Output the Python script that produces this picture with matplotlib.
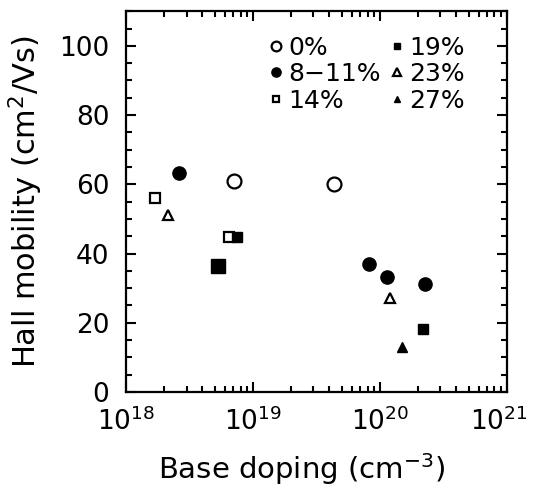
import matplotlib
matplotlib.use("Agg")
import matplotlib.pyplot as plt
import matplotlib.transforms as mtransforms
from matplotlib.ticker import LogLocator, MultipleLocator, NullFormatter

plt.rcParams['font.family'] = ['DejaVu Sans']
plt.rcParams['mathtext.fontset'] = 'dejavusans'

# Hall mobility vs base doping, grouped by In content
labels = ["0%", "8\u221211%", "14%", "19%", "23%", "27%"]
doping_0 = [7.1e18, 4.34e19]
mob_0 = [61.0, 60.2]
doping_8 = [2.63e18, 8.2e19, 1.14e20, 2.25e20]
mob_8 = [63.3, 37.0, 33.2, 31.1]
doping_14 = [1.70e18, 6.5e18]
mob_14 = [56.1, 44.7]
doping_19 = [7.5e18, 2.17e20]
mob_19 = [44.7, 18.3]
doping_19_big = [5.3e18]
mob_19_big = [36.3]
doping_23 = [2.14e18, 1.20e20]
mob_23 = [51.2, 27.1]
doping_27 = [1.49e20]
mob_27 = [12.9]

fig = plt.figure(figsize=(5.34, 4.87), dpi=100)
ax = fig.add_axes([0.236, 0.195, 0.713, 0.782])

ax.plot(doping_0, mob_0, 'o', mfc='white', mec='black', mew=1.6, ms=10, ls='none', label=labels[0])
ax.plot(doping_8, mob_8, 'o', mfc='black', mec='black', ms=9.5, ls='none', label=labels[1])
ax.plot(doping_14, mob_14, 's', mfc='white', mec='black', mew=1.6, ms=7, ls='none', label=labels[2])
ax.plot(doping_19, mob_19, 's', mfc='black', mec='black', ms=6.5, ls='none', label=labels[3])
ax.plot(doping_19_big, mob_19_big, 's', mfc='black', mec='black', ms=9.5, ls='none')
ax.plot(doping_23, mob_23, '^', mfc='white', mec='black', mew=1.6, ms=7.5, ls='none', label=labels[4])
ax.plot(doping_27, mob_27, '^', mfc='black', mec='black', ms=7, ls='none', label=labels[5])

ax.set_xscale('log')
ax.set_xlim(1e18, 1e21)
ax.set_ylim(0, 110)
ax.xaxis.set_major_locator(LogLocator(base=10, numticks=10))
ax.xaxis.set_minor_locator(LogLocator(base=10, subs=range(2, 10), numticks=20))
ax.xaxis.set_minor_formatter(NullFormatter())
ax.yaxis.set_major_locator(MultipleLocator(20))
ax.yaxis.set_minor_locator(MultipleLocator(5))

ax.tick_params(which='both', direction='in', top=True, right=True, width=1.5,
               labelsize=19, colors='black')
ax.tick_params(which='major', length=7)
ax.tick_params(which='minor', length=4)
ax.tick_params(axis='y', which='major', pad=12)
ax.tick_params(axis='x', which='major', pad=11)
for s in ax.spines.values():
    s.set_linewidth(1.6)

ax.set_xlabel("Base doping (cm$^{\u22123}$)", fontsize=21, labelpad=9)
ax.xaxis.set_label_coords(0.462, -0.155)
ax.set_ylabel("Hall mobility (cm$^{2}$/Vs)", fontsize=22, labelpad=10)

ax.legend(ncol=2, loc='upper right', bbox_to_anchor=(0.93, 0.975), frameon=False,
          fontsize=18, handletextpad=0.05, columnspacing=0.2, labelspacing=0.1,
          handlelength=0.9, markerscale=0.7, borderaxespad=0.2)

# nudge the 10^21 label so it stays inside the right edge
fig.canvas.draw()
for t in ax.xaxis.get_major_ticks():
    if abs(t.get_loc() / 1e21 - 1) < 1e-6:
        t.label1.set_transform(t.label1.get_transform() +
                               mtransforms.ScaledTranslation(-6 / 72, 0, fig.dpi_scale_trans))

fig.savefig("out.png", dpi=100)
